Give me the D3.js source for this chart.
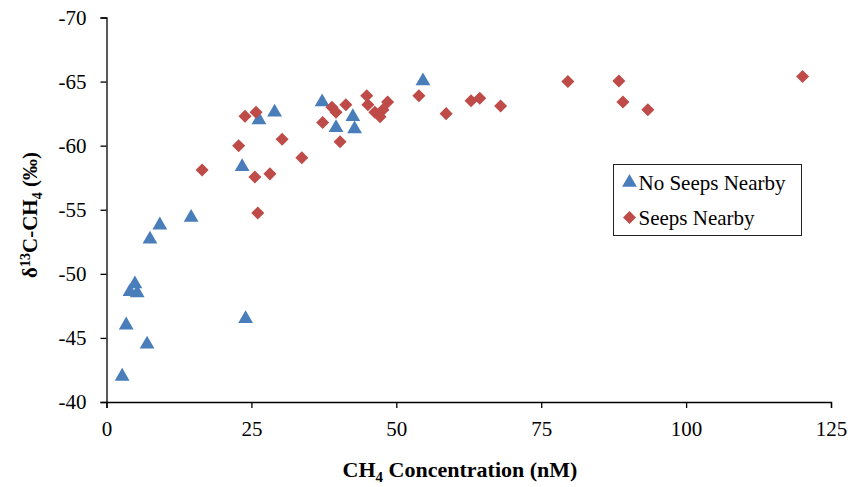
<!DOCTYPE html>
<html>
<head>
<meta charset="utf-8">
<script src="https://cdn.jsdelivr.net/npm/d3@7"></script>
<style>
  body { margin: 0; background: #fff; }
  text { font-family: "Liberation Serif", "Times New Roman", serif; }
</style>
</head>
<body>
<div id="chart"></div>
<script>
// No seeps nearby: [CH4 nM, d13C]
var noSeeps = [
  [2.7, -42.0], [3.4, -46.0], [7.0, -44.5], [4.05, -48.6], [4.9, -49.2], [5.3, -48.5],
  [7.5, -52.7], [9.2, -53.8], [14.6, -54.4], [23.4, -58.35], [24.0, -46.5],
  [26.3, -62.0], [29.0, -62.6], [37.2, -63.4], [39.6, -61.4], [42.5, -62.25],
  [42.8, -61.3], [54.6, -65.05]
];
// Seeps nearby
var seeps = [
  [16.5, -58.1], [22.8, -60.0], [23.9, -62.3], [25.8, -62.6], [25.6, -57.55],
  [26.1, -54.75], [28.2, -57.8], [30.3, -60.5], [33.7, -59.05], [37.3, -61.8],
  [38.9, -63.0], [39.6, -62.6], [41.3, -63.2], [40.3, -60.3], [44.9, -63.9],
  [45.1, -63.2], [46.3, -62.6], [47.2, -62.25], [47.7, -62.8], [48.5, -63.4],
  [53.9, -63.9], [58.6, -62.5], [62.9, -63.5], [64.4, -63.7], [68.0, -63.1],
  [79.6, -65.0], [88.4, -65.05], [89.1, -63.4], [93.4, -62.8], [120.1, -65.4]
];
var xTicks = [0, 25, 50, 75, 100, 125];
var yTicks = [-70, -65, -60, -55, -50, -45, -40];
var seriesNames = ["No Seeps Nearby", "Seeps Nearby"];

var W = 851, H = 487;
var margin = { top: 17.5, right: 20, bottom: 85, left: 106.5 };
var width = 831 - margin.left;
var height = 402 - margin.top;

var svg = d3.select("#chart").append("svg")
    .attr("width", W).attr("height", H);
var g = svg.append("g")
    .attr("transform", "translate(" + margin.left + "," + margin.top + ")");

var x = d3.scaleLinear().domain([0, 125]).range([0, width]);
var y = d3.scaleLinear().domain([-40, -70]).range([height, 0]);

var blue = "#4a7ebb", red = "#be4b48";
var tri = d3.symbol().type(d3.symbolTriangle).size(95);
var dia = d3.symbol().type(d3.symbolSquare).size(85);

// axes (plain hyphen minus like the original)
var fmt = function (d) { return String(d); };
var xAxis = g.append("g")
    .attr("transform", "translate(0," + height + ")")
    .call(d3.axisBottom(x).tickValues(xTicks).tickFormat(fmt).tickSize(6).tickPadding(13));
var yAxis = g.append("g")
    .call(d3.axisLeft(y).tickValues(yTicks).tickFormat(fmt).tickSize(6).tickPadding(14));

[xAxis, yAxis].forEach(function (a) {
    a.selectAll("path, line").attr("stroke", "#000").attr("stroke-width", 1.3);
    a.selectAll("text").attr("font-size", 21).attr("fill", "#000")
        .style("font-family", "Liberation Serif, serif");
});

// points
g.append("g").selectAll("path")
    .data(noSeeps)
    .enter().append("path")
    .attr("d", tri)
    .attr("fill", blue)
    .attr("transform", function (d) { return "translate(" + x(d[0]) + "," + y(d[1]) + ")"; });

g.append("g").selectAll("path")
    .data(seeps)
    .enter().append("path")
    .attr("d", dia)
    .attr("fill", red)
    .attr("transform", function (d) { return "translate(" + x(d[0]) + "," + y(d[1]) + ") rotate(45)"; });

// axis titles
var xt = svg.append("text")
    .attr("x", 460)
    .attr("y", 477)
    .attr("text-anchor", "middle")
    .attr("font-size", 22)
    .attr("font-weight", "bold");
xt.append("tspan").text("CH");
xt.append("tspan").text("4").attr("font-size", 15).attr("dy", 5);
xt.append("tspan").text(" Concentration (nM)").attr("dy", -5);

var yt = svg.append("text")
    .attr("transform", "translate(37,215) rotate(-90)")
    .attr("text-anchor", "middle")
    .attr("font-size", 21)
    .attr("font-weight", "bold");
yt.append("tspan").text("δ");
yt.append("tspan").text("13").attr("font-size", 14).attr("dy", -7);
yt.append("tspan").text("C-CH").attr("dy", 7);
yt.append("tspan").text("4").attr("font-size", 14).attr("dy", 5);
yt.append("tspan").text(" (‰)").attr("dy", -5);

// legend
var leg = svg.append("g").attr("transform", "translate(613.5,164.5)");
leg.append("rect")
    .attr("width", 188).attr("height", 71)
    .attr("fill", "#fff").attr("stroke", "#222").attr("stroke-width", 1);
var items = leg.selectAll("g.item")
    .data(seriesNames)
    .enter().append("g")
    .attr("class", "item")
    .attr("transform", function (d, i) { return "translate(0," + (18 + i * 35) + ")"; });
items.append("path")
    .attr("d", function (d, i) { return i === 0 ? tri() : dia(); })
    .attr("fill", function (d, i) { return i === 0 ? blue : red; })
    .attr("transform", function (d, i) { return i === 0 ? "translate(16,0)" : "translate(16,0) rotate(45)"; });
items.append("text")
    .attr("x", 25)
    .attr("dy", "0.35em")
    .attr("font-size", 21)
    .text(function (d) { return d; });
</script>
</body>
</html>
